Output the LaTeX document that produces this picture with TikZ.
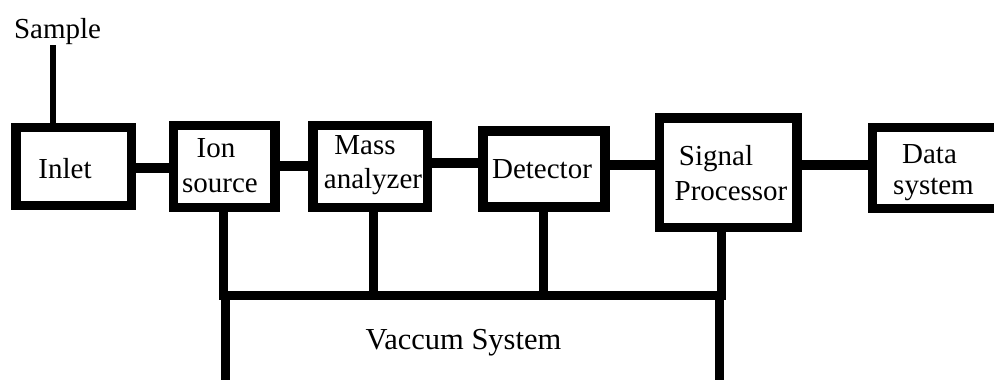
\documentclass[tikz,border=0pt]{standalone}
\usepackage{fontspec}
\setmainfont{Liberation Serif}
\begin{document}
\begin{tikzpicture}[x=1pt,y=-1pt,
  box/.style={draw=black,line width=9.5pt,inner sep=0pt,fill=white},
  conn/.style={line width=10pt},
  drop/.style={line width=9pt,line join=miter},
  feed/.style={line width=6pt},
  txt/.style={font=\fontsize{29}{34}\selectfont,inner sep=0pt,anchor=base}]
\useasboundingbox (0,0) rectangle (994,380);
\clip (0,0) rectangle (994,380);
% boxes
\node[box,minimum width=115.5pt,minimum height=78pt] (inlet) at (73.75,166.5) {};
\node[box,minimum width=101.5pt,minimum height=82pt] (ion) at (224.25,166.5) {};
\node[box,minimum width=114.5pt,minimum height=82pt] (mass) at (370.25,166.5) {};
\node[box,minimum width=122pt,minimum height=76pt] (det) at (544,169) {};
\node[box,minimum width=137.5pt,minimum height=109.5pt] (sig) at (728.25,172.75) {};
\node[box,minimum width=147.5pt,minimum height=81pt] (data) at (946.25,168) {};
\node[box,line width=9pt,minimum width=494pt,minimum height=124.5pt] (vac) at (472.5,357.75) {};
% sample feed
\coordinate (feedtop) at (52.5,45);
\draw[feed] (feedtop) -- (inlet.north -| feedtop);
% horizontal connectors
\coordinate (c1) at (0,167.5);
\coordinate (c2) at (0,165.5);
\coordinate (c3) at (0,162.5);
\coordinate (c4) at (0,164.5);
\coordinate (c5) at (0,165);
\draw[conn] (inlet.east |- c1) -- (ion.west |- c1);
\draw[conn] (ion.east |- c2) -- (mass.west |- c2);
\draw[conn] (mass.east |- c3) -- (det.west |- c3);
\draw[conn] (det.east |- c4) -- (sig.west |- c4);
\draw[conn] (sig.east |- c5) -- (data.west |- c5);
% vacuum bus
\coordinate (busL) at (223.5,295.5);
\coordinate (busR) at (721.5,295.5);
\coordinate (busM) at (373.5,295.5);
\coordinate (busD) at (543,295.5);
\draw[drop] (ion.south -| busL) -- (busL) -- (busR) -- (sig.south -| busR);
\draw[drop] (mass.south -| busM) -- (busM);
\draw[drop] (det.south -| busD) -- (busD);
% texts
\node[txt] (tsample) at (57.5,38) {Sample};
\node[txt] (tinlet) at (65,178) {Inlet};
\node[txt] (tion) at (216,157) {Ion};
\node[txt] (tsource) at (220,192) {source};
\node[txt] (tmass) at (365,154) {Mass};
\node[txt] (tanalyzer) at (373,188) {analyzer};
\node[txt] (tdet) at (542,178) {Detector};
\node[txt] (tsignal) at (716,165) {Signal};
\node[txt] (tproc) at (731,200) {Processor};
\node[txt] (tdata) at (929.5,163) {Data};
\node[txt] (tsystem) at (933.5,194) {system};
\node[txt,font=\fontsize{30.5}{35}\selectfont] (tvac) at (463.5,349) {Vaccum System};
\end{tikzpicture}
\end{document}
